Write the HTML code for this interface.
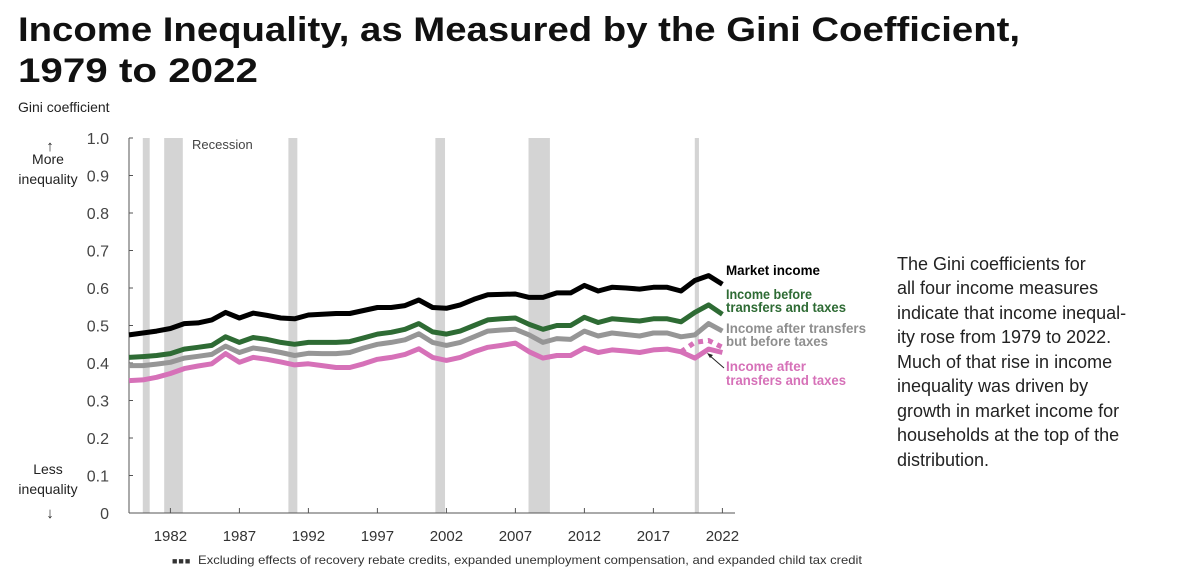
<!DOCTYPE html>
<html><head><meta charset="utf-8"><style>
html,body{margin:0;padding:0;background:#fff;}
svg{display:block;font-family:"Liberation Sans",sans-serif;}
</style></head><body>
<svg id="chart" width="1200" height="579" viewBox="0 0 1200 579" xmlns="http://www.w3.org/2000/svg">
<text x="18" y="41" font-size="34" font-weight="bold" fill="#111" textLength="1002" lengthAdjust="spacingAndGlyphs">Income Inequality, as Measured by the Gini Coefficient,</text>
<text x="18" y="82" font-size="34" font-weight="bold" fill="#111" textLength="240" lengthAdjust="spacingAndGlyphs">1979 to 2022</text>
<text x="18" y="112" font-size="14" fill="#222">Gini coefficient</text>
<g font-size="14" fill="#222" text-anchor="middle">
<text x="50" y="151" font-size="15">↑</text><text x="48" y="164">More</text><text x="48" y="184">inequality</text></g>
<g font-size="14" fill="#222" text-anchor="middle">
<text x="48" y="474">Less</text><text x="48" y="494">inequality</text><text x="50" y="518" font-size="15">↓</text></g>
<g id="recessions"></g>
<g id="axes"></g>
<g id="lines"></g>
<text x="192" y="149" font-size="13" fill="#444">Recession</text>
<g font-size="14" font-weight="bold">
<text x="726" y="275" fill="#000" textLength="94" lengthAdjust="spacingAndGlyphs">Market income</text>
<text x="726" y="299" fill="#2e6b34" textLength="86" lengthAdjust="spacingAndGlyphs">Income before</text>
<text x="726" y="312" fill="#2e6b34" textLength="120" lengthAdjust="spacingAndGlyphs">transfers and taxes</text>
<text x="726" y="333" fill="#8f8f8f" textLength="140" lengthAdjust="spacingAndGlyphs">Income after transfers</text>
<text x="726" y="346" fill="#8f8f8f" textLength="102" lengthAdjust="spacingAndGlyphs">but before taxes</text>
<text x="726" y="371" fill="#d671b8" textLength="80" lengthAdjust="spacingAndGlyphs">Income after</text>
<text x="726" y="385" fill="#d671b8" textLength="120" lengthAdjust="spacingAndGlyphs">transfers and taxes</text>
<line x1="724" y1="368" x2="709" y2="355" stroke="#222" stroke-width="1"/>
<path d="M707,353 L713,355 L710,358 Z" fill="#222"/>
</g>
<g font-size="18" fill="#222">
<text x="897" y="270">The Gini coefficients for</text>
<text x="897" y="294">all four income measures</text>
<text x="897" y="319">indicate that income inequal-</text>
<text x="897" y="343">ity rose from 1979 to 2022.</text>
<text x="897" y="368">Much of that rise in income</text>
<text x="897" y="392">inequality was driven by</text>
<text x="897" y="417">growth in market income for</text>
<text x="897" y="441">households at the top of the</text>
<text x="897" y="466">distribution.</text>
</g>
<g font-size="12" fill="#333">
<text x="172" y="564" fill="#333" font-weight="bold" font-size="9" letter-spacing="1">■■■</text>
<text x="198" y="564" textLength="664" lengthAdjust="spacingAndGlyphs">Excluding effects of recovery rebate credits, expanded unemployment compensation, and expanded child tax credit</text>
</g>
</svg>
<script>
const years=[];for(let y=1979;y<=2022;y++)years.push(y);
const marketIncome=[0.475,0.48,0.485,0.492,0.505,0.507,0.515,0.535,0.52,0.533,0.527,0.52,0.518,0.528,0.53,0.532,0.532,0.54,0.548,0.548,0.553,0.568,0.548,0.546,0.555,0.57,0.582,0.583,0.584,0.575,0.575,0.587,0.587,0.607,0.592,0.602,0.6,0.597,0.602,0.602,0.592,0.62,0.633,0.61];
const beforeTransfers=[0.415,0.417,0.42,0.425,0.437,0.442,0.447,0.47,0.455,0.468,0.463,0.455,0.45,0.455,0.455,0.455,0.457,0.467,0.477,0.482,0.49,0.505,0.483,0.477,0.485,0.5,0.515,0.518,0.52,0.503,0.49,0.5,0.5,0.522,0.508,0.518,0.515,0.512,0.518,0.518,0.51,0.535,0.555,0.53];
const afterTransfers=[0.393,0.393,0.397,0.402,0.413,0.418,0.423,0.445,0.428,0.44,0.435,0.428,0.42,0.426,0.425,0.425,0.428,0.44,0.45,0.455,0.462,0.478,0.455,0.447,0.455,0.47,0.485,0.488,0.49,0.475,0.455,0.465,0.463,0.485,0.472,0.48,0.476,0.472,0.48,0.48,0.47,0.475,0.505,0.485];
const afterTaxes=[0.353,0.355,0.362,0.372,0.385,0.392,0.398,0.425,0.402,0.415,0.41,0.403,0.395,0.398,0.393,0.388,0.388,0.398,0.41,0.415,0.423,0.438,0.415,0.407,0.415,0.43,0.442,0.447,0.453,0.43,0.413,0.42,0.42,0.44,0.428,0.435,0.432,0.428,0.435,0.437,0.43,0.413,0.437,0.428];
const excludingYears=[2019,2020,2021,2022];
const excludingValues=[0.43,0.455,0.46,0.442];
const recessionStarts=[1980.0,1981.55,1990.55,2001.2,2007.95,2020.0];
const recessionEnds=[1980.5,1982.9,1991.2,2001.9,2009.5,2020.3];
const yTicks=[0,0.1,0.2,0.3,0.4,0.5,0.6,0.7,0.8,0.9,1.0];
const yTickLabels=["0","0.1","0.2","0.3","0.4","0.5","0.6","0.7","0.8","0.9","1.0"];
const xTicks=[1982,1987,1992,1997,2002,2007,2012,2017,2022];

const NS="http://www.w3.org/2000/svg";
const x=yr=>129+(yr-1979)*13.8;
const y=v=>513-375*v;
function mk(tag,attrs,parent){const e=document.createElementNS(NS,tag);for(const k in attrs)e.setAttribute(k,attrs[k]);parent.appendChild(e);return e;}
const rg=document.getElementById('recessions');
recessionStarts.forEach((s,i)=>{
 const r=mk('rect',{x:x(s),y:y(1.0),width:x(recessionEnds[i])-x(s),height:y(0)-y(1.0),fill:'#d4d4d4'},rg);
 
 
});
const ax=document.getElementById('axes');
const yl=mk('line',{x1:129,y1:y(1.0),x2:129,y2:y(0),stroke:'#555','stroke-width':1},ax);


const xl=mk('line',{x1:129,y1:y(0),x2:735,y2:y(0),stroke:'#555','stroke-width':1},ax);


yTicks.forEach((v,i)=>{
 mk('line',{x1:129,y1:y(v),x2:133,y2:y(v),stroke:'#555'},ax);
 const t=mk('text',{x:109,y:y(v)+6,'font-size':16,fill:'#444','text-anchor':'end'},ax);
 t.textContent=yTickLabels[i];
 
 
});
xTicks.forEach(yr=>{
 mk('line',{x1:x(yr),y1:y(0),x2:x(yr),y2:y(0)-5,stroke:'#555'},ax);
 const t=mk('text',{x:x(yr),y:541,'font-size':15,fill:'#333','text-anchor':'middle'},ax);
 t.textContent=yr;
 
 
});
const lg=document.getElementById('lines');
function line(xs,vals,color,name,dash){
 const d=vals.map((v,i)=>(i?'L':'M')+x(xs[i]).toFixed(1)+','+y(v).toFixed(1)).join(' ');
 const p=mk('path',{d:d,fill:'none',stroke:color,'stroke-width':5,'stroke-linejoin':'round'},lg);
 if(dash)p.setAttribute('stroke-dasharray',dash);
 
 
}
line(years,afterTaxes,'#d671b8','after-taxes-line');
line(excludingYears,excludingValues,'#d671b8','excluding-effects-line','5 5');
line(years,afterTransfers,'#969696','after-transfers-line');
line(years,beforeTransfers,'#2e6b34','before-transfers-line');
line(years,marketIncome,'#000','market-income-line');
</script>
</body></html>
